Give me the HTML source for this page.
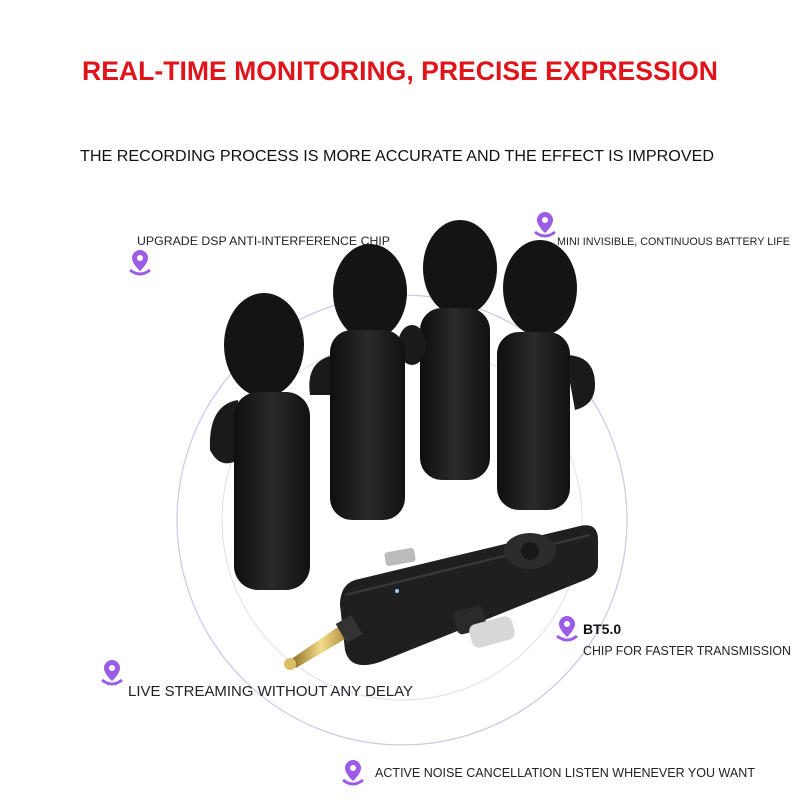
<!DOCTYPE html><html><head><style>body{margin:0;background:#fff}svg{display:block}text{font-family:"Liberation Sans",sans-serif}</style></head><body>
<svg width="800" height="800" viewBox="0 0 800 800">
<defs>
<linearGradient id="b" x1="0" x2="1"><stop offset="0" stop-color="#0e0e0e"/><stop offset=".5" stop-color="#2a2a2a"/><stop offset="1" stop-color="#111"/></linearGradient>
<linearGradient id="g" x1="0" x2="1"><stop offset="0" stop-color="#8a6a20"/><stop offset=".5" stop-color="#f2dc8a"/><stop offset="1" stop-color="#a07c2a"/></linearGradient>
<g id="pin"><path d="M0,-12 a8,8 0 0 1 8,8 c0,6 -8,13 -8,13 c0,0 -8,-7 -8,-13 a8,8 0 0 1 8,-8z" fill="#9b5de5"/><circle cx="0" cy="-4" r="3" fill="#fff"/><path d="M-10,8 q10,8 20,0" stroke="#9b5de5" stroke-width="3" fill="none"/></g>
</defs>
<text x="400" y="80" text-anchor="middle" font-size="27" font-weight="bold" fill="#e0151b" textLength="636" lengthAdjust="spacingAndGlyphs">REAL-TIME MONITORING, PRECISE EXPRESSION</text>
<text x="397" y="161" text-anchor="middle" font-size="16" fill="#111" textLength="634" lengthAdjust="spacingAndGlyphs">THE RECORDING PROCESS IS MORE ACCURATE AND THE EFFECT  IS IMPROVED</text>
<circle cx="402" cy="520" r="225" fill="none" stroke="#c9c6ea" stroke-width="1.2"/>
<circle cx="402" cy="520" r="180" fill="none" stroke="#e0def2" stroke-width="1"/>
<text x="137" y="245" font-size="12" fill="#222" textLength="253" lengthAdjust="spacingAndGlyphs">UPGRADE DSP ANTI-INTERFERENCE CHIP</text>
<text x="557" y="245" font-size="11" fill="#222" textLength="233" lengthAdjust="spacingAndGlyphs">MINI INVISIBLE, CONTINUOUS BATTERY LIFE</text>
<use href="#pin" x="140" y="262"/><use href="#pin" x="545" y="224"/>
<!-- mic 3 -->
<ellipse cx="460" cy="268" rx="37" ry="48" fill="#141414"/>
<rect x="420" y="308" width="70" height="172" rx="22" fill="url(#b)"/>
<ellipse cx="412" cy="345" rx="14" ry="20" fill="#1a1a1a"/>
<!-- mic 4 -->
<ellipse cx="540" cy="288" rx="37" ry="48" fill="#141414"/>
<path d="M565,355 q30,0 30,30 q0,20 -20,25z" fill="#1a1a1a"/>
<rect x="497" y="332" width="73" height="178" rx="22" fill="url(#b)"/>
<!-- mic 2 -->
<ellipse cx="370" cy="292" rx="37" ry="48" fill="#141414"/>
<path d="M335,355 q-30,5 -25,40 l25,0z" fill="#1a1a1a"/>
<rect x="330" y="330" width="75" height="190" rx="22" fill="url(#b)"/>
<!-- mic 1 -->
<ellipse cx="264" cy="345" rx="40" ry="52" fill="#141414"/>
<path d="M238,400 q-30,5 -28,50 q10,20 28,10z" fill="#1a1a1a"/>
<rect x="234" y="392" width="76" height="198" rx="24" fill="url(#b)"/>
<!-- receiver -->
<rect x="385" y="550" width="30" height="14" rx="3" fill="#bbb" transform="rotate(-10 400 557)"/>
<path d="M355,580 L580,526 Q598,522 598,540 L598,565 Q598,575 585,580 L380,662 Q350,672 345,650 L340,605 Q340,585 355,580z" fill="#1f1f1f"/>
<path d="M345,595 L590,535" stroke="#3a3a3a" stroke-width="2"/>
<ellipse cx="530" cy="551" rx="26" ry="18" fill="#2c2c2c"/>
<circle cx="530" cy="551" r="9" fill="#181818"/>
<circle cx="397" cy="591" r="2" fill="#9cf"/>
<rect x="455" y="608" width="30" height="24" rx="5" fill="#2a2a2a" transform="rotate(-15 470 620)"/>
<rect x="470" y="620" width="44" height="24" rx="7" fill="#d8d8d8" transform="rotate(-15 492 632)"/>
<path d="M290,660 L345,622 L352,635 L296,668z" fill="url(#g)"/>
<circle cx="290" cy="664" r="6" fill="#d9be6a"/>
<rect x="340" y="618" width="18" height="22" fill="#333" transform="rotate(-30 349 629)"/>
<use href="#pin" x="567" y="628"/>
<text x="583" y="634" font-size="14" font-weight="bold" fill="#111">BT5.0</text>
<text x="583" y="655" font-size="13" fill="#222" textLength="208" lengthAdjust="spacingAndGlyphs">CHIP FOR FASTER TRANSMISSION</text>
<use href="#pin" x="112" y="672"/>
<text x="128" y="696" font-size="15" fill="#222" textLength="285" lengthAdjust="spacingAndGlyphs">LIVE STREAMING WITHOUT ANY DELAY</text>
<use href="#pin" x="353" y="772"/>
<text x="375" y="777" font-size="13" fill="#222" textLength="380" lengthAdjust="spacingAndGlyphs">ACTIVE NOISE CANCELLATION LISTEN WHENEVER YOU WANT</text>
</svg></body></html>
